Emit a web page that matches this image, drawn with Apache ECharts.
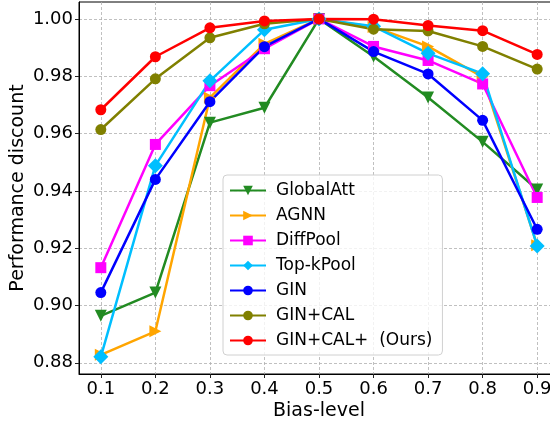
<!DOCTYPE html>
<html>
<head>
<meta charset="utf-8">
<script src="https://cdn.jsdelivr.net/npm/echarts@6/dist/echarts.min.js"></script>
<style>
  html, body { margin: 0; padding: 0; background: #fff; }
  #chart { width: 550px; height: 424px; }
</style>
</head>
<body>
<div id="chart"></div>
<script>
// bias levels on the x axis
const biasLevels = [0.1, 0.2, 0.3, 0.4, 0.5, 0.6, 0.7, 0.8, 0.9];
const xTicks = [0.1, 0.2, 0.3, 0.4, 0.5, 0.6, 0.7, 0.8, 0.9];
const yTicks = [0.88, 0.90, 0.92, 0.94, 0.96, 0.98, 1.00];

// values
const globalAtt = [0.8964, 0.9045, 0.9638, 0.9690, 1.0000, 0.9869, 0.9726, 0.9571, 0.9405];
const agnn      = [0.8828, 0.8910, 0.9725, 0.9913, 1.0000, 0.9972, 0.9904, 0.9798, 0.9210];
const diffPool  = [0.9132, 0.9562, 0.9767, 0.9896, 1.0000, 0.9904, 0.9855, 0.9773, 0.9377];
const topkPool  = [0.8821, 0.9488, 0.9784, 0.9962, 1.0000, 0.9974, 0.9880, 0.9809, 0.9208];
const gin       = [0.9045, 0.9440, 0.9711, 0.9903, 1.0000, 0.9886, 0.9808, 0.9646, 0.9266];
const ginCal    = [0.9614, 0.9791, 0.9934, 0.9983, 1.0000, 0.9964, 0.9958, 0.9904, 0.9825];
const ginCalP   = [0.9683, 0.9868, 0.9969, 0.9993, 1.0000, 0.9999, 0.9977, 0.9959, 0.9876];

const font = 'DejaVu Sans';

function makeSeries(name, values, color, symbol, rotate, size) {
  return {
    name: name,
    type: 'line',
    data: biasLevels.map((x, i) => [x, values[i]]),
    symbol: symbol,
    symbolRotate: rotate,
    symbolSize: size,
    showSymbol: true,
    lineStyle: { color: color, width: 2.5 },
    itemStyle: { color: color },
    emphasis: { disabled: true },
    animation: false
  };
}

const chart = echarts.init(document.getElementById('chart'));

chart.setOption({
  animation: false,
  grid: {
    left: 79, top: 2, right: -9, bottom: 50,
    outerBoundsMode: 'none',
    containLabel: false,
    show: true, borderColor: '#000', borderWidth: 1
  },
  legend: {
    orient: 'vertical',
    left: 223, top: 175,
    itemWidth: 36, itemHeight: 12, itemGap: 8,
    padding: [7, 10, 6, 6],
    backgroundColor: 'rgba(255,255,255,0.8)',
    borderColor: '#d0d0d0', borderWidth: 1, borderRadius: 4,
    textStyle: { fontFamily: font, fontSize: 17, color: '#000', padding: [0, 0, 0, 5] }
  },
  xAxis: {
    type: 'value',
    min: 0.06, max: 0.94,
    name: 'Bias-level',
    nameLocation: 'middle', nameGap: 28,
    nameMoveOverlap: false,
    nameTextStyle: { fontFamily: font, fontSize: 19, color: '#000' },
    axisLine: { show: true, lineStyle: { color: '#000' } },
    axisTick: { show: true, length: 4, customValues: xTicks, lineStyle: { color: '#222' } },
    axisLabel: {
      customValues: xTicks,
      fontFamily: font, fontSize: 18, color: '#000', margin: 6,
      formatter: v => v.toFixed(1)
    },
    splitLine: { show: true, lineStyle: { color: '#b0b0b0', type: [3, 2], width: 0.8 } }
  },
  yAxis: {
    type: 'value',
    min: 0.8761, max: 1.0059,
    name: 'Performance discount',
    nameLocation: 'middle', nameGap: 51,
    nameMoveOverlap: false,
    nameTextStyle: { fontFamily: font, fontSize: 19, color: '#000' },
    axisLine: { show: true, lineStyle: { color: '#000' } },
    axisTick: { show: true, length: 4, customValues: yTicks, lineStyle: { color: '#222' } },
    axisLabel: {
      customValues: yTicks,
      fontFamily: font, fontSize: 18, color: '#000', margin: 6,
      formatter: v => v.toFixed(2)
    },
    splitLine: { show: true, lineStyle: { color: '#b0b0b0', type: [3, 2], width: 0.8 } }
  },
  series: [
    makeSeries('GlobalAtt', globalAtt, '#228B22', 'triangle', 180, 12),
    makeSeries('AGNN', agnn, '#FFA500', 'triangle', -90, 12),
    makeSeries('DiffPool', diffPool, '#FF00FF', 'rect', 0, 11),
    makeSeries('Top-kPool', topkPool, '#00BFFF', 'diamond', 0, 15),
    makeSeries('GIN', gin, '#0000FF', 'circle', 0, 11),
    makeSeries('GIN+CAL', ginCal, '#808000', 'circle', 0, 11),
    makeSeries('GIN+CAL+  (Ours)', ginCalP, '#FF0000', 'circle', 0, 11)
  ]
});
</script>
</body>
</html>
